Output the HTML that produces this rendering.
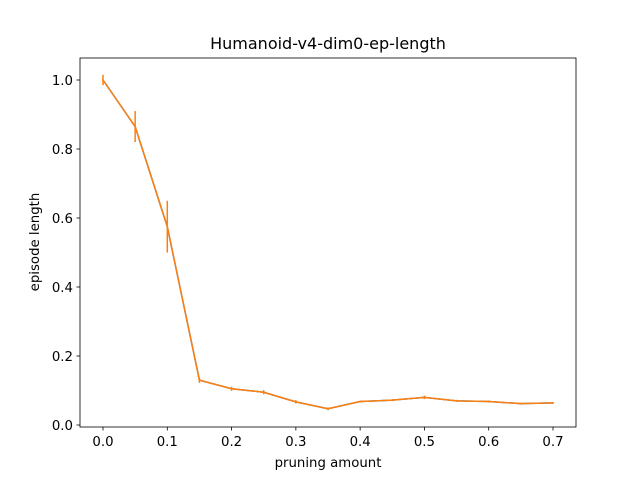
<!DOCTYPE html>
<html><head><meta charset="utf-8"><style>
body{margin:0;background:#fff;font-family:"Liberation Sans","DejaVu Sans",sans-serif;}
svg text{font-family:"DejaVu Sans","Liberation Sans",sans-serif;}
</style></head><body>
<svg id="chart" width="640" height="480">
<rect width="640" height="480" fill="#fff"/>
<text x="328" y="49" font-size="16" text-anchor="middle">Humanoid-v4-dim0-ep-length</text>
<g id="axes"></g>
<g id="series"></g>
<rect x="80" y="58" width="496" height="369" fill="none" stroke="#000" stroke-width="0.8"/>
<text x="328" y="467" font-size="13.3" text-anchor="middle">pruning amount</text>
<text transform="translate(39,242) rotate(-90)" font-size="13.3" text-anchor="middle">episode length</text>
</svg>
<script>
const xs=[0,0.05,0.1,0.15,0.2,0.25,0.3,0.35,0.4,0.45,0.5,0.55,0.6,0.65,0.7];
const ys=[1.0,0.865,0.575,0.13,0.105,0.095,0.067,0.047,0.068,0.072,0.08,0.07,0.068,0.062,0.064];
const errs=[0.015,0.045,0.075,0.008,0.006,0.006,0.005,0.004,0.003,0.003,0.005,0.003,0.003,0.003,0.003];
const xTicks=[0,0.1,0.2,0.3,0.4,0.5,0.6,0.7];
const yTicks=[0,0.2,0.4,0.6,0.8,1.0];
const NS="http://www.w3.org/2000/svg";
function X(v){return 103+v*(553-103)/0.7;}
function Y(v){return 425-v*345;}
const axes=document.getElementById('axes'),ser=document.getElementById('series');
function mk(tag,attrs,parent,txt){const e=document.createElementNS(NS,tag);for(const k in attrs)e.setAttribute(k,attrs[k]);if(txt!==undefined)e.textContent=txt;parent.appendChild(e);return e;}
xTicks.forEach(t=>{
 const l=mk('line',{x1:X(t),x2:X(t),y1:427,y2:430.5,stroke:'#000','stroke-width':0.8},axes);
 
 
 const tx=mk('text',{x:X(t),y:446,'font-size':13.3,'text-anchor':'middle'},axes,t.toFixed(1));
 
 
});
yTicks.forEach(t=>{
 const l=mk('line',{x1:76.5,x2:80,y1:Y(t),y2:Y(t),stroke:'#000','stroke-width':0.8},axes);
 
 
 const tx=mk('text',{x:73,y:Y(t)+4.8,'font-size':13.3,'text-anchor':'end'},axes,t.toFixed(1));
 
 
});
const pb=mk('polyline',{points:xs.map((x,i)=>X(x)+','+Y(ys[i])).join(' '),fill:'none',stroke:'#1f77b4','stroke-width':1.5},ser);


const pl=mk('polyline',{points:xs.map((x,i)=>X(x)+','+Y(ys[i])).join(' '),fill:'none',stroke:'#ff7f0e','stroke-width':1.5},ser);


xs.forEach((x,i)=>{
 const e=mk('line',{x1:X(x),x2:X(x),y1:Y(ys[i]-errs[i]),y2:Y(ys[i]+errs[i]),stroke:'#ff7f0e','stroke-width':1.5},ser);
 
 
});
</script>
</body></html>
